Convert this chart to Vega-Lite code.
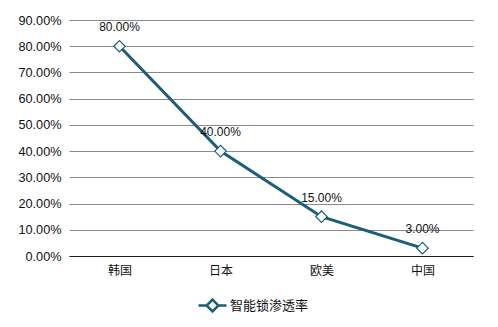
{
  "$schema": "https://vega.github.io/schema/vega-lite/v6.json",
  "width": 404,
  "height": 236,
  "autosize": {"type": "none"},
  "padding": {"left": 69, "top": 20, "right": 25, "bottom": 71},
  "background": "white",
  "data": {
    "values": [
      {"region": "韩国", "rate": 0.80, "series": "智能锁渗透率"},
      {"region": "日本", "rate": 0.40, "series": "智能锁渗透率"},
      {"region": "欧美", "rate": 0.15, "series": "智能锁渗透率"},
      {"region": "中国", "rate": 0.03, "series": "智能锁渗透率"}
    ]
  },
  "encoding": {
    "x": {
      "field": "region",
      "type": "nominal",
      "sort": null,
      "title": null,
      "axis": {
        "labelAngle": 0,
        "ticks": false,
        "labelPadding": 9,
        "domainColor": "#1a1a1a",
        "domainWidth": 1,
        "labelFont": "Noto Sans CJK SC",
        "labelFontSize": 12,
        "labelColor": "#111111",
        "grid": false
      }
    },
    "y": {
      "field": "rate",
      "type": "quantitative",
      "title": null,
      "scale": {"domain": [0, 0.9], "nice": false},
      "axis": {
        "values": [0, 0.1, 0.2, 0.3, 0.4, 0.5, 0.6, 0.7, 0.8, 0.9],
        "format": ".2%",
        "domain": false,
        "ticks": false,
        "labelPadding": 8,
        "labelFont": "Liberation Sans",
        "labelFontSize": 12.7,
        "labelColor": "#111111",
        "gridColor": "#8a8a8a",
        "gridWidth": 1
      }
    }
  },
  "layer": [
    {
      "mark": {"type": "line", "strokeWidth": 3},
      "encoding": {
        "color": {
          "field": "series",
          "type": "nominal",
          "scale": {"range": ["#1b5e7a"]},
          "legend": {
            "title": null,
            "orient": "none",
            "legendX": 128,
            "legendY": 270,
            "symbolType": "M-1,0H-0.42M0.42,0H1M0,-0.42L0.42,0L0,0.42L-0.42,0Z",
            "symbolSize": 784,
            "symbolStrokeWidth": 2.5,
            "symbolFillColor": "white",
            "labelFont": "Noto Sans CJK SC",
            "labelFontSize": 13,
            "labelColor": "#111111",
            "labelOffset": 2
          }
        }
      }
    },
    {
      "mark": {
        "type": "point",
        "shape": "diamond",
        "filled": true,
        "fill": "white",
        "stroke": "#1b5e7a",
        "strokeWidth": 1.2,
        "size": 130,
        "opacity": 1
      }
    },
    {
      "mark": {
        "type": "text",
        "dy": -19,
        "baseline": "middle",
        "font": "Liberation Sans",
        "fontSize": 12,
        "color": "#111111"
      },
      "encoding": {
        "text": {"field": "rate", "type": "quantitative", "format": ".2%"}
      }
    }
  ],
  "config": {
    "view": {"stroke": null}
  }
}
